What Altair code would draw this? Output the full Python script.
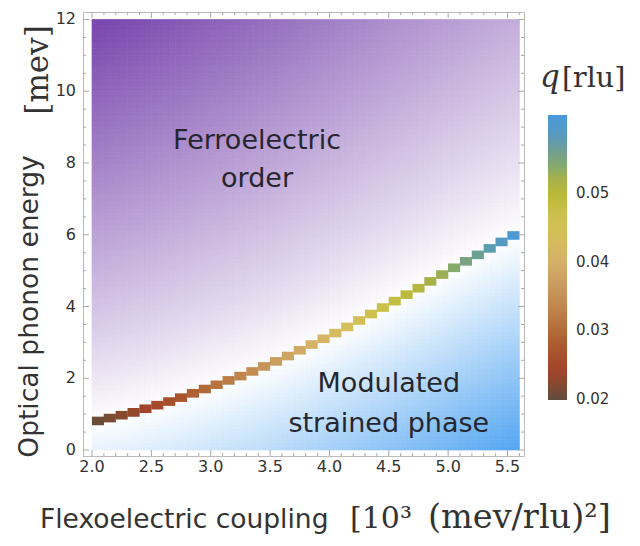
import altair as alt
import numpy as np
import pandas as pd

# ---------------- data ----------------
# phase boundary (centre of each stair block), x in 10^3 (mev/rlu)^2, y in mev
block_x = [2.05, 2.15, 2.25, 2.35, 2.45, 2.55, 2.65, 2.75, 2.85, 2.95,
           3.05, 3.15, 3.25, 3.35, 3.45, 3.55, 3.65, 3.75, 3.85, 3.95,
           4.05, 4.15, 4.25, 4.35, 4.45, 4.55, 4.65, 4.75, 4.85, 4.95,
           5.05, 5.15, 5.25, 5.35, 5.45, 5.55]
block_y = [0.81, 0.89, 0.97, 1.05, 1.15, 1.25, 1.35, 1.46, 1.58, 1.70,
           1.82, 1.94, 2.06, 2.19, 2.33, 2.47, 2.62, 2.78, 2.94, 3.10,
           3.26, 3.43, 3.61, 3.79, 3.97, 4.15, 4.33, 4.51, 4.70, 4.89,
           5.08, 5.26, 5.44, 5.62, 5.80, 5.98]
block_q = [0.0205, 0.0213, 0.0222, 0.0231, 0.0241, 0.0251, 0.0262, 0.0273, 0.0285, 0.0297,
           0.0309, 0.0321, 0.0333, 0.0345, 0.0357, 0.0369, 0.0380, 0.0391, 0.0402, 0.0413,
           0.0424, 0.0436, 0.0448, 0.0460, 0.0472, 0.0484, 0.0495, 0.0506, 0.0517, 0.0528,
           0.0539, 0.0551, 0.0563, 0.0576, 0.0590, 0.0606]

# colour bar (q in rlu) stops, bottom -> top
q_stops = [0.01985, 0.0216, 0.0240, 0.0265, 0.0298, 0.0332, 0.0367, 0.0400,
           0.0434, 0.0468, 0.0502, 0.0526, 0.0557, 0.0580, 0.0614]
q_colors = ["#5e4c3e", "#7e4a30", "#a0442a", "#a8502a", "#b26a38", "#c0844c", "#ca9c60", "#d4b068",
            "#d6be5c", "#ccc24c", "#b8b838", "#a0ae50", "#7a9e88", "#5e9ab8", "#4a98dc"]
q_ticks = [0.02, 0.03, 0.04, 0.05]

x_major = [2.0, 2.5, 3.0, 3.5, 4.0, 4.5, 5.0, 5.5]
x_minor = [2.1, 2.2, 2.3, 2.4, 2.6, 2.7, 2.8, 2.9, 3.1, 3.2, 3.3, 3.4, 3.6, 3.7, 3.8, 3.9,
           4.1, 4.2, 4.3, 4.4, 4.6, 4.7, 4.8, 4.9, 5.1, 5.2, 5.3, 5.4, 5.6]
y_major = [0, 2, 4, 6, 8, 10, 12]
y_minor = [0.5, 1, 1.5, 2.5, 3, 3.5, 4.5, 5, 5.5, 6.5, 7, 7.5, 8.5, 9, 9.5, 10.5, 11, 11.5]

labels_text = ["Ferroelectric", "order", "Modulated", "strained phase"]
labels_x = [3.39, 3.39, 4.50, 4.50]
labels_y = [8.39, 7.33, 1.62, 0.50]

# ---------------- layout / style ----------------
W, H = 441, 444
X_DOM = [1.924, 5.639]
Y_DOM = [-0.167, 12.209]
SANS = "DejaVu Sans"
SERIF = "DejaVu Serif"
TXT = "#333333"
TICK = "#a8a8a8"
PURPLE = np.array([122, 72, 174])
BLUE = np.array([84, 166, 242])

xs = alt.Scale(domain=X_DOM, nice=False, zero=False)
ys = alt.Scale(domain=Y_DOM, nice=False, zero=False)

# ---------------- background shading (distance from boundary) ----------------
nx, ny = 72, 120
gx = np.linspace(2.0, 5.6, nx + 1)
gy = np.linspace(0.0, 12.0, ny + 1)
cx = (gx[:-1] + gx[1:]) / 2
cy = (gy[:-1] + gy[1:]) / 2
CX, CY = np.meshgrid(cx, cy)
X0, Y0 = np.meshgrid(gx[:-1], gy[:-1])
X1, Y1 = np.meshgrid(gx[1:], gy[1:])
B = np.interp(CX, block_x, block_y)
fp = np.clip(((CY - B) / (1 + 0.09 * (CX - 2.0))) / 11.0, 0, 1) ** 0.9
fb = np.clip((B - CY) / 6.0, 0, 1)
white = np.array([255, 255, 255])
cols = []
for a, b in zip(fp.ravel(), fb.ravel()):
    if a > 0:
        c = white * (1 - a) + PURPLE * a
    else:
        c = white * (1 - b) + BLUE * b
    cols.append("#%02x%02x%02x" % tuple(int(round(v)) for v in c))
bg_df = pd.DataFrame({"x0": X0.ravel(), "x1": X1.ravel(), "y0": Y0.ravel(), "y1": Y1.ravel(), "c": cols})

bg = alt.Chart(bg_df).mark_rect(strokeWidth=0.7).encode(
    x=alt.X("x0:Q", scale=xs, axis=None),
    x2="x1:Q",
    y=alt.Y("y0:Q", scale=ys, axis=None),
    y2="y1:Q",
    fill=alt.Fill("c:N", scale=None),
    stroke=alt.Stroke("c:N", scale=None),
)

# ---------------- boundary stair ----------------
bd = pd.DataFrame({"x": block_x, "y": block_y, "q": block_q})
bd["xa"] = bd["x"] - 0.051
bd["xb"] = bd["x"] + 0.051
bd["ya"] = bd["y"] - 0.12
bd["yb"] = bd["y"] + 0.12

band = alt.Chart(bd).mark_rect().encode(
    x=alt.X("xa:Q", scale=xs, axis=None),
    x2="xb:Q",
    y=alt.Y("ya:Q", scale=ys, axis=None),
    y2="yb:Q",
    color=alt.Color("q:Q", scale=alt.Scale(domain=q_stops, range=q_colors),
                    legend=alt.Legend(title=None, orient="none", legendX=465, legendY=103,
                                      direction="vertical", gradientLength=285, gradientThickness=19,
                                      values=q_ticks, format=".2f", labelFont=SANS, labelFontSize=15,
                                      labelColor=TXT, labelOffset=9, labelBaseline="middle",
                                      gradientStrokeWidth=0, padding=0)),
)

# ---------------- annotations ----------------
ann_df = pd.DataFrame({"t": labels_text, "x": labels_x, "y": labels_y})
ann = alt.Chart(ann_df).mark_text(font=SANS, fontSize=27, color="#26262e", align="center",
                                  baseline="alphabetic").encode(
    x=alt.X("x:Q", scale=xs, axis=None), y=alt.Y("y:Q", scale=ys, axis=None), text="t:N")

# ---------------- frame ticks and tick labels ----------------
def xtick(vals, ya, yb):
    return alt.Chart(pd.DataFrame({"t": vals})).mark_rule(color=TICK, strokeWidth=1).encode(
        x=alt.X("t:Q", scale=xs, axis=None), y=alt.value(ya), y2=alt.value(yb))

def ytick(vals, xa, xb):
    return alt.Chart(pd.DataFrame({"t": vals})).mark_rule(color=TICK, strokeWidth=1).encode(
        y=alt.Y("t:Q", scale=ys, axis=None), x=alt.value(xa), x2=alt.value(xb))

ticks = [xtick(x_major, H, H - 6), xtick(x_minor, H, H - 3), xtick(x_major, 0, 6), xtick(x_minor, 0, 3),
         ytick(y_major, 0, 6), ytick(y_minor, 0, 3), ytick(y_major, W, W - 6), ytick(y_minor, W, W - 3)]

xlab = alt.Chart(pd.DataFrame({"t": x_major})).mark_text(
    font=SANS, fontSize=16, color=TXT, align="center", baseline="top").encode(
    x=alt.X("t:Q", scale=xs, axis=None), y=alt.value(H + 3), text=alt.Text("t:Q", format=".1f"))
ylab = alt.Chart(pd.DataFrame({"t": y_major})).mark_text(
    font=SANS, fontSize=16, color=TXT, align="right", baseline="middle").encode(
    y=alt.Y("t:Q", scale=ys, axis=None), x=alt.value(-7), text=alt.Text("t:Q", format="d"))

# ---------------- titles ----------------
one = pd.DataFrame({"a": [0]})

def label(text, px, py, font, size, angle=0, align="left", style="normal"):
    kw = dict(text=text, font=font, fontSize=size, color=TXT, align=align, baseline="alphabetic",
              fontStyle=style)
    if angle:
        kw["angle"] = angle
    return alt.Chart(one).mark_text(**kw).encode(x=alt.value(px), y=alt.value(py))

titles = [
    label("Flexoelectric coupling", -43, 516, SANS, 26.5),
    label("[10³", 267, 516, SERIF, 30),
    label("(mev/rlu)²]", 345, 516, SERIF, 33.5),
    label("Optical phonon energy", -45, 294.5, SANS, 26.5, angle=270, align="center"),
    label("[mev]", -35, 58, SERIF, 31, angle=270, align="center"),
    label("q", 457, 75, SERIF, 31, style="italic"),
    label("[rlu]", 479, 75, SERIF, 28.5),
]

chart = alt.layer(bg, band, ann, *ticks, xlab, ylab, *titles).properties(
    width=W, height=H,
    padding={"left": 75, "top": 4, "right": 108, "bottom": 82},
    autosize=alt.AutoSizeParams(type="none"),
    background="white",
).configure_view(stroke="#bbbbbb", strokeWidth=1)

chart.save("out.html", embed_options={"renderer": "svg", "actions": False})
